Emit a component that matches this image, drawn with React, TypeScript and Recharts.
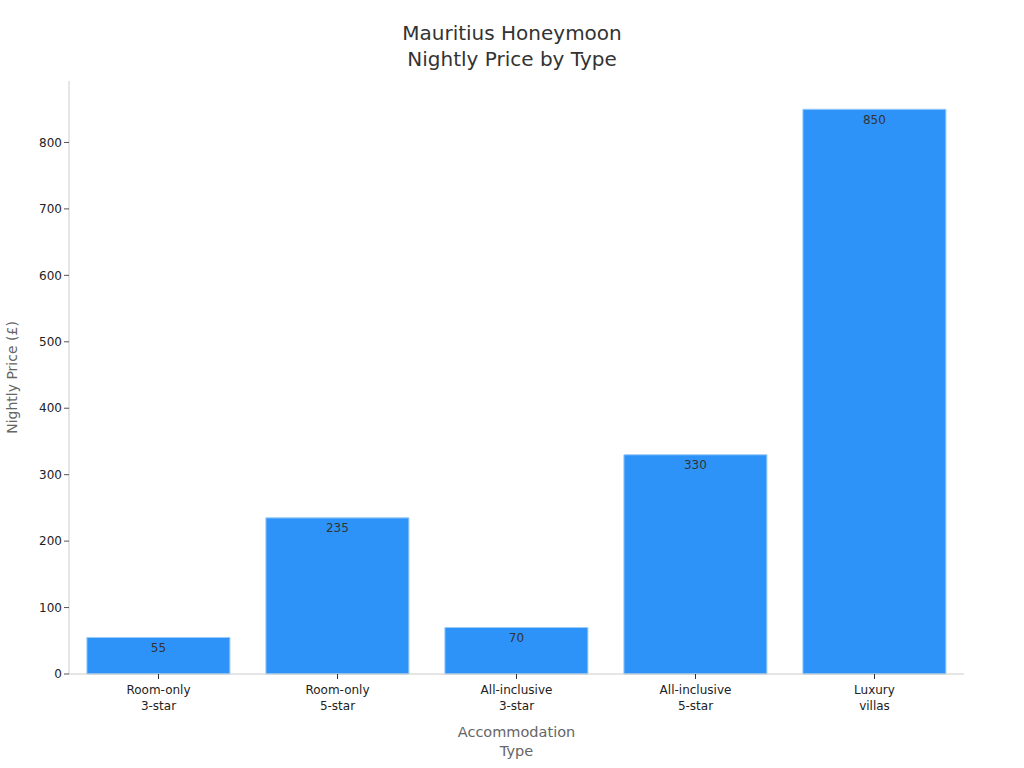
import { BarChart, Bar, XAxis, YAxis, LabelList, Label } from "recharts";

const categories = [
  "Room-only\n3-star",
  "Room-only\n5-star",
  "All-inclusive\n3-star",
  "All-inclusive\n5-star",
  "Luxury\nvillas",
];
const prices = [55, 235, 70, 330, 850];
const yTicks = [0, 100, 200, 300, 400, 500, 600, 700, 800];

const data = categories.map((type, i) => ({ type, price: prices[i] }));

const FONT = "DejaVu Sans, sans-serif";

function TypeTick(props: any) {
  const { x, y, payload } = props;
  const lines = String(payload.value).split("\n");
  return (
    <text x={x} y={y} textAnchor="middle" fontSize={12} fill="#222" fontFamily={FONT}>
      {lines.map((l, i) => (
        <tspan key={i} x={x} dy={i === 0 ? 13 : 16}>
          {l}
        </tspan>
      ))}
    </text>
  );
}

function XTitle(props: any) {
  const { viewBox } = props;
  const cx = viewBox.x + viewBox.width / 2;
  const y = viewBox.y;
  return (
    <text x={cx} y={y} textAnchor="middle" fontSize={14.5} fill="#666" fontFamily={FONT}>
      <tspan x={cx} dy={63}>Accommodation</tspan>
      <tspan x={cx} dy={19}>Type</tspan>
    </text>
  );
}

export default function App() {
  return (
    <div style={{ position: "absolute", left: 0, top: 0, width: 1024, height: 768, background: "#fff", fontFamily: FONT }}>
      <div
        style={{
          position: "absolute",
          left: 0,
          top: 20,
          width: 1024,
          textAlign: "center",
          fontSize: 20,
          lineHeight: "26px",
          color: "#333",
        }}
      >
        Mauritius Honeymoon
        <br />
        Nightly Price by Type
      </div>
      <BarChart
        width={1024}
        height={768}
        data={data}
        margin={{ top: 81, right: 60, bottom: 0, left: 1 }}
        barCategoryGap="10%"
      >
        <XAxis
          dataKey="type"
          tick={<TypeTick />}
          tickLine={{ stroke: "#333" }}
          tickSize={5}
          axisLine={{ stroke: "#ccc" }}
          interval={0}
          height={94}
        >
          <Label content={<XTitle />} />
        </XAxis>
        <YAxis
          width={68}
          domain={[0, 892.5]}
          ticks={yTicks}
          tick={{ fontSize: 12, fill: "#222", fontFamily: FONT }}
          tickLine={{ stroke: "#555" }}
          tickSize={5}
          axisLine={{ stroke: "#ccc" }}
        >
          <Label
            value="Nightly Price (£)"
            angle={-90}
            position="insideLeft"
            offset={11}
            style={{ fontSize: 14, fill: "#666", fontFamily: FONT, textAnchor: "middle" }}
          />
        </YAxis>
        <Bar dataKey="price" fill="#2e93f9" stroke="#9ccbf7" strokeWidth={1} isAnimationActive={false}>
          <LabelList
            dataKey="price"
            position="insideTop"
            offset={6}
            style={{ fontSize: 12, fill: "#333", fontFamily: FONT }}
          />
        </Bar>
      </BarChart>
    </div>
  );
}
